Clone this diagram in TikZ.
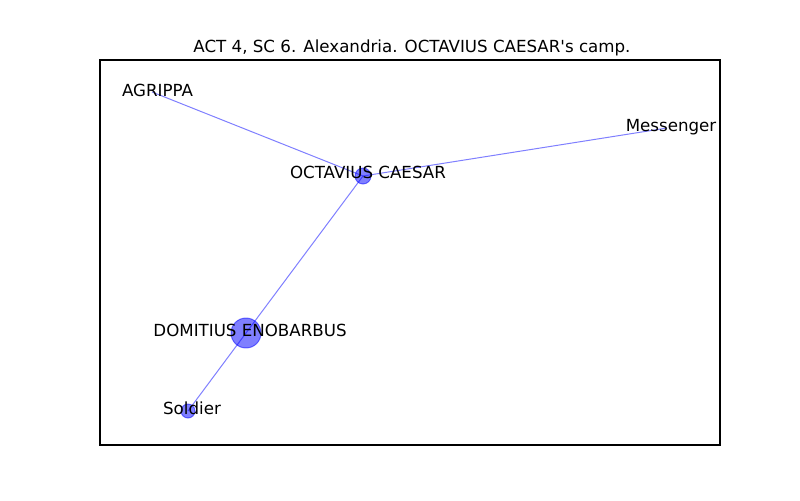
\documentclass[tikz,border=0pt]{standalone}
\usepackage{fontspec}
\setmainfont{DejaVu Sans}
\newfontfamily\dvplain{DejaVu Sans}
\begin{document}
\begin{tikzpicture}[x=0.72pt,y=-0.72pt,
  edge/.style={draw=blue,draw opacity=0.5,line width=0.72pt},
  vert/.style={circle,fill=blue,fill opacity=0.5,draw=blue,draw opacity=0.5,inner sep=0pt,line width=0.7pt},
  lbl/.style={anchor=base,inner sep=0pt,font=\dvplain\fontsize{12pt}{14pt}\selectfont}]
\useasboundingbox (0,0) rectangle (800,500);
\fill[white] (0,0) rectangle (800,500);
\draw[black,line width=0.75pt] (100,60) rectangle (720,445);
\node[lbl] (title) at (412,52) {ACT 4, SC 6. Alexandria. OCTAVIUS CAESAR's camp.};
% vertices
\coordinate (ag) at (152,92);
\coordinate (me) at (667,128);
\node[vert,minimum size=16*0.72pt] (oc) at (363,176) {};
\node[vert,minimum size=30*0.72pt] (do) at (246,333) {};
\node[vert,minimum size=14*0.72pt] (so) at (188,411) {};
% edges
\draw[edge] (ag) -- (oc.center);
\draw[edge] (me) -- (oc.center);
\draw[edge] (oc.center) -- (do.center);
\draw[edge] (do.center) -- (so.center);
% labels
\node[lbl] (lag) at (157.5,96) {AGRIPPA};
\node[lbl] (lme) at (671,131) {Messenger};
\node[lbl] (loc) at (368,178) {OCTAVIUS CAESAR};
\node[lbl] (ldo) at (250,336) {DOMITIUS ENOBARBUS};
\node[lbl] (lso) at (192,414) {Soldier};
\end{tikzpicture}
\end{document}
